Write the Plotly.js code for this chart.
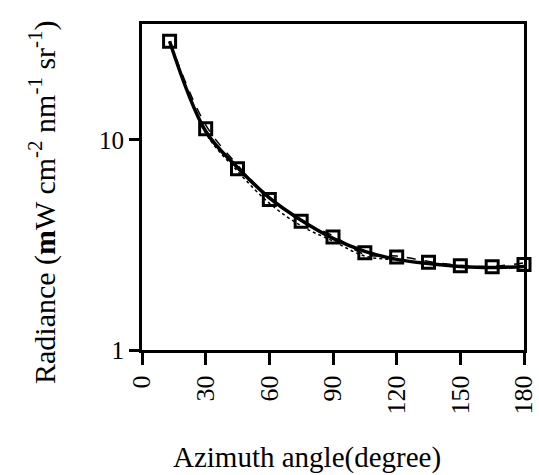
<!DOCTYPE html>
<html>
<head>
<meta charset="utf-8">
<script src="https://cdn.plot.ly/plotly-3.0.1.min.js"></script>
<style>html,body{margin:0;padding:0;background:#fff;}</style>
</head>
<body>
<div id="chart" style="width:539px;height:475px;"></div>
<script>
const azimuth = [13, 30, 45, 60, 75, 90, 105, 120, 135, 150, 165, 180];
const measured = [29.5, 11.3, 7.3, 5.2, 4.1, 3.45, 2.9, 2.77, 2.62, 2.52, 2.49, 2.55];
const modelSolid = [29.5, 11.0, 7.4, 5.3, 4.15, 3.4, 2.95, 2.7, 2.58, 2.5, 2.47, 2.5];
const modelDashed = [29.5, 11.8, 7.6, 5.3, 4.1, 3.5, 2.85, 2.8, 2.64, 2.53, 2.5, 2.6];
const modelDotted = [29.5, 10.8, 7.1, 5.0, 3.9, 3.3, 2.8, 2.68, 2.58, 2.5, 2.46, 2.5];
const xTicks = [0, 30, 60, 90, 120, 150, 180];
const yTicks = [1, 10];
const xTitle = 'Azimuth angle(degree)';
const yTitle = 'Radiance (<b>m</b>W cm<sup>-2</sup> nm<sup>-1</sup> sr<sup>-1</sup>)';

const font = 'Liberation Serif';
const traces = [
  {x: azimuth, y: modelDotted, mode: 'lines', line: {color: '#000', width: 1.5, dash: 'dot', shape: 'spline'}, hoverinfo: 'none'},
  {x: azimuth, y: modelDashed, mode: 'lines', line: {color: '#000', width: 1.5, dash: 'dash', shape: 'spline'}, hoverinfo: 'none'},
  {x: azimuth, y: modelSolid, mode: 'lines', line: {color: '#000', width: 3.5, shape: 'spline'}, hoverinfo: 'none'},
  {x: azimuth, y: measured, mode: 'markers', marker: {symbol: 'square-open', size: 12, color: '#000', line: {width: 3, color: '#000'}}, hoverinfo: 'none', cliponaxis: false}
];
const layout = {
  width: 539, height: 475,
  margin: {l: 142, r: 15, t: 24, b: 125},
  paper_bgcolor: '#fff', plot_bgcolor: '#fff',
  showlegend: false,
  font: {family: font, color: '#000', size: 24},
  xaxis: {
    range: [0, 180], tickvals: xTicks, ticktext: xTicks.map(String),
    tickangle: -90, ticks: 'outside', ticklen: 12, tickwidth: 3, tickcolor: '#000',
    showline: true, linewidth: 3, linecolor: '#000', mirror: true,
    showgrid: false, zeroline: false,
    tickfont: {family: font, size: 26}
  },
  yaxis: {
    type: 'log', range: [0, 1.552], tickvals: yTicks, ticktext: yTicks.map(String),
    ticks: 'outside', ticklen: 10, tickwidth: 3, tickcolor: '#000',
    showline: true, linewidth: 3, linecolor: '#000', mirror: true,
    showgrid: false, zeroline: false,
    tickfont: {family: font, size: 25}
  },
  annotations: [
    {text: xTitle, xref: 'paper', yref: 'paper', x: (307 - 142) / 382, y: -(458 - 350) / 326,
     xanchor: 'center', yanchor: 'middle', showarrow: false, font: {family: font, size: 29}},
    {text: yTitle, xref: 'paper', yref: 'paper', x: -(142 - 42) / 382, y: (350 - 202) / 326,
     xanchor: 'center', yanchor: 'middle', textangle: -90, showarrow: false, font: {family: font, size: 30}}
  ]
};
Plotly.newPlot('chart', traces, layout, {displayModeBar: false, staticPlot: true});
</script>
</body>
</html>
